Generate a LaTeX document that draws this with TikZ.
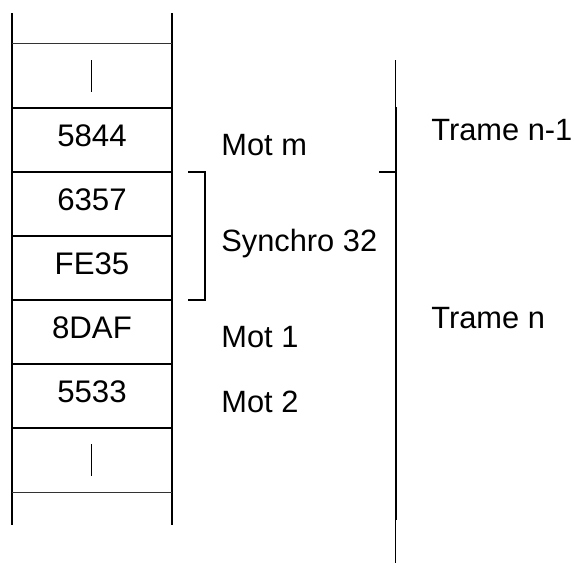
\documentclass[tikz,border=0pt]{standalone}
\usepackage{fontspec}
\setmainfont{Liberation Sans}
\usetikzlibrary{positioning}
\tikzset{
    cell/.style={
        rectangle, minimum width=80pt, minimum height=32pt, inner sep=0pt,
        text depth=4pt, font=\fontsize{15.6}{19}\selectfont
    },
    lbl/.style={
        anchor=base west, inner sep=0pt, font=\fontsize{15.4}{19}\selectfont
    },
    wall/.style={line width=1pt, draw=black},
    sep_thick/.style={line width=1pt, draw=black},
    sep_thin/.style={line width=0.5pt, draw=black!80},
    tick_mark/.style={line width=0.5pt, draw=black},
    brace_line/.style={line width=1pt, draw=black}
}

\begin{document}
\begin{tikzpicture}[x=0.5pt, y=-0.5pt]
    \useasboundingbox (0,0) rectangle (575,568);

    % Memory cells
    \node[cell] (gap1) at (92,76) {};
    \node[cell] (m5844) at (92,140) {5844};
    \node[cell] (m6357) at (92,204) {6357};
    \node[cell] (mFE35) at (92,268) {FE35};
    \node[cell] (m8DAF) at (92,332) {8DAF};
    \node[cell] (m5533) at (92,396) {5533};
    \node[cell] (gap2) at (92,460) {};

    % Walls
    \coordinate (wl_top) at (12,13);
    \coordinate (wl_bot) at (12,525);
    \coordinate (wr_top) at (172,13);
    \coordinate (wr_bot) at (172,525);
    \draw[wall] (wl_top) -- (wl_bot);
    \draw[wall] (wr_top) -- (wr_bot);

    % Separators
    \draw[sep_thin] (gap1.north west) -- (gap1.north east);
    \foreach \c in {m5844, m6357, mFE35, m8DAF, m5533, gap2}
        \draw[sep_thick] (\c.north west) -- (\c.north east);
    \draw[sep_thin] (gap2.south west) -- (gap2.south east);

    % Gap marks
    \draw[tick_mark] ([yshift=8pt]gap1.center) -- ([yshift=-8pt]gap1.center);
    \draw[tick_mark] ([yshift=8pt]gap2.center) -- ([yshift=-8pt]gap2.center);

    % Synchro bracket
    \draw[brace_line] ([xshift=8pt]m6357.north east) -| ([xshift=16.5pt]mFE35.south east)
        -- ([xshift=8pt]mFE35.south east);

    % Word labels
    \node[lbl] (motm) at (221,155) {Mot m};
    \node[lbl] (sync) at (221,251) {Synchro 32};
    \node[lbl] (mot1) at (221,347) {Mot 1};
    \node[lbl] (mot2) at (221,412) {Mot 2};

    % Frame line
    \coordinate (fr_a) at (396,60);
    \coordinate (fr_b) at (396,107);
    \coordinate (fr_c) at (396,520);
    \coordinate (fr_d) at (396,563);
    \coordinate (fr_tick) at (379,172);
    \draw[tick_mark] (fr_a) -- (fr_b);
    \draw[wall] (fr_b) -- (fr_c);
    \draw[tick_mark] (fr_c) -- (fr_d);
    \draw[brace_line] (fr_tick) -- (fr_tick -| fr_b);

    % Frame labels
    \node[lbl] (tr_prev) at (431,140) {Trame n-1};
    \node[lbl] (tr_cur) at (431,328) {Trame n};
\end{tikzpicture}
\end{document}
